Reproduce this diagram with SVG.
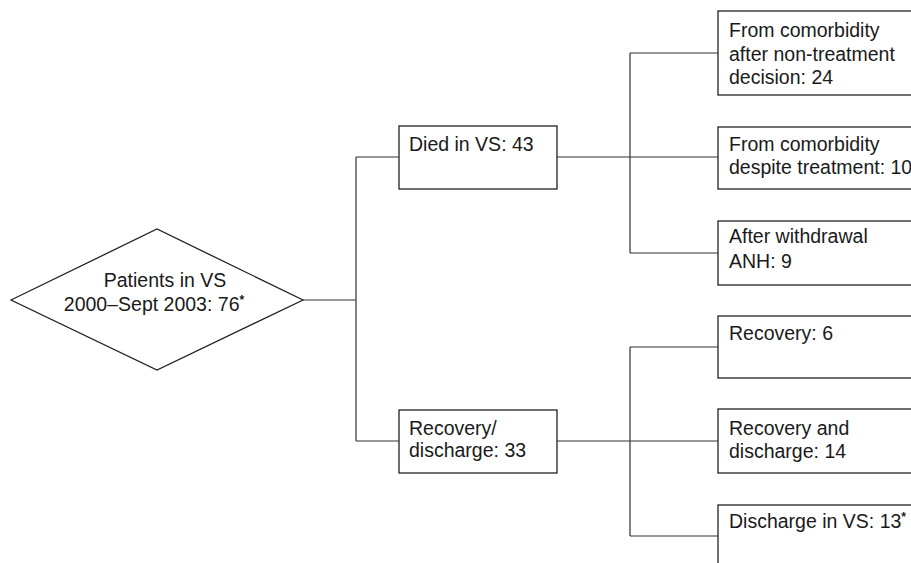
<svg xmlns="http://www.w3.org/2000/svg" width="911" height="563" viewBox="0 0 911 563">
<style>
.box{fill:#fff;stroke:#222;stroke-width:1.3}
.ln{fill:none;stroke:#333;stroke-width:1.2}
text{font-family:"Liberation Sans",Arial,sans-serif;font-size:19.5px;fill:#1a1a1a}
.sup{font-size:12px;font-weight:bold}
</style>
<rect width="911" height="563" fill="#fff"/>
<g id="connectors">
<path class="ln" d="M303,300 H356 M356,157 V441 M356,157 H399 M356,441 H399"/>
<path class="ln" d="M557,157 H630 M630,53 V253 M630,53 H718 M630,157 H718 M630,253 H718"/>
<path class="ln" d="M557,441 H630 M630,347 V536 M630,347 H718 M630,441 H718 M630,536 H718"/>
</g>
<g id="start">
<polygon class="box" points="11,300 157,229 303,300 157,370"/>
<text x="165" y="287" text-anchor="middle">Patients in VS</text>
<text x="154" y="311" text-anchor="middle">2000–Sept 2003: 76<tspan class="sup" dy="-7">*</tspan></text>
</g>
<g id="died">
<rect class="box" x="399" y="126" width="158" height="63"/>
<text x="409" y="151">Died in VS: 43</text>
</g>
<g id="recovery-discharge">
<rect class="box" x="399" y="410" width="158" height="63"/>
<text x="409" y="435">Recovery/</text>
<text x="409" y="457">discharge: 33</text>
</g>
<g id="comorbidity-nontreatment">
<rect class="box" x="718" y="11" width="220" height="84"/>
<text x="729" y="37">From comorbidity</text>
<text x="729" y="61">after non-treatment</text>
<text x="729" y="84">decision: 24</text>
</g>
<g id="comorbidity-treatment">
<rect class="box" x="718" y="127" width="220" height="62"/>
<text x="729" y="151">From comorbidity</text>
<text x="729" y="174">despite treatment: 10</text>
</g>
<g id="withdrawal">
<rect class="box" x="718" y="221" width="220" height="64"/>
<text x="729" y="243">After withdrawal</text>
<text x="729" y="268">ANH: 9</text>
</g>
<g id="recovery">
<rect class="box" x="718" y="316" width="220" height="62"/>
<text x="729" y="340">Recovery: 6</text>
</g>
<g id="recovery-and-discharge">
<rect class="box" x="718" y="409" width="220" height="64"/>
<text x="729" y="435">Recovery and</text>
<text x="729" y="458">discharge: 14</text>
</g>
<g id="discharge-vs">
<rect class="box" x="718" y="505" width="220" height="80"/>
<text x="729" y="528">Discharge in VS: 13<tspan class="sup" dy="-7">*</tspan></text>
</g>
</svg>
